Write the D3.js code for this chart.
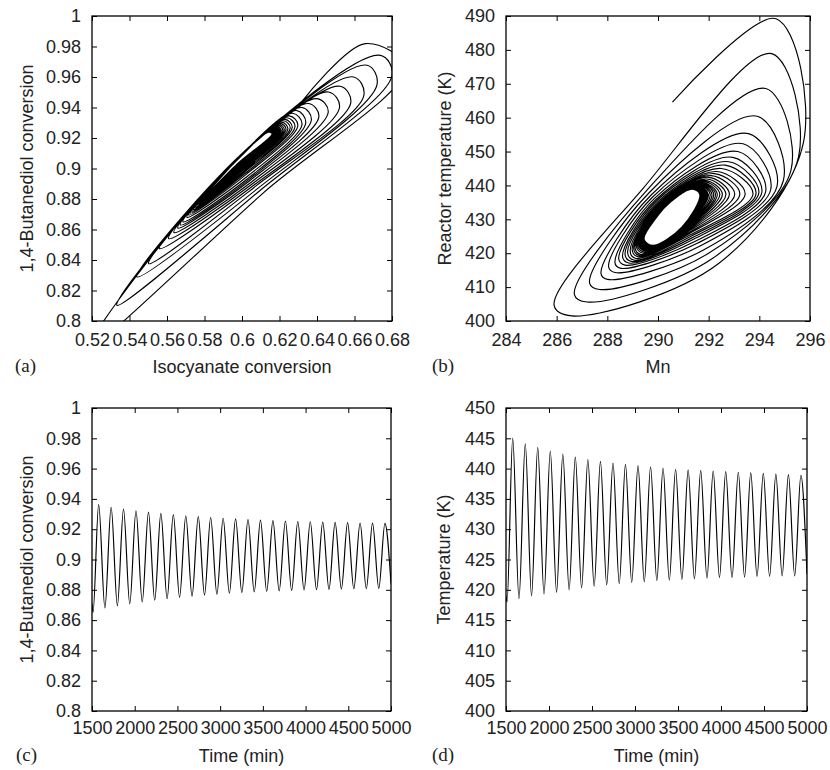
<!DOCTYPE html>
<html lang="en">
<head>
<meta charset="UTF-8">
<title>Limit cycle: phase portraits and time series</title>
<script src="https://d3js.org/d3.v7.min.js"></script>
<style>
  body { margin: 0; background: #fff; }
  .tick line { stroke: #000; stroke-width: 1px; }
  .tick text { font-family: "Liberation Sans", Arial, sans-serif; font-size: 18px; fill: #222; }
  .frame { fill: none; stroke: #000; stroke-width: 1.3px; }
  .orbit { fill: none; stroke: #000; stroke-width: 1.15px; stroke-linejoin: round; }
  .title { font-family: "Liberation Sans", Arial, sans-serif; font-size: 18px; fill: #222; }
  .tag { font-family: "Liberation Serif", "Times New Roman", serif; font-size: 19px; fill: #222; }
</style>
</head>
<body>
<svg id="fig" width="830" height="770"></svg>
<script>
// ---- tick values ----
const isoTicks = [0.52, 0.54, 0.56, 0.58, 0.6, 0.62, 0.64, 0.66, 0.68];
const bdTicks = [0.8, 0.82, 0.84, 0.86, 0.88, 0.9, 0.92, 0.94, 0.96, 0.98, 1];
const mnTicks = [284, 286, 288, 290, 292, 294, 296];
const reactorTTicks = [400, 410, 420, 430, 440, 450, 460, 470, 480, 490];
const timeTicks = [1500, 2000, 2500, 3000, 3500, 4000, 4500, 5000];
const tempTicks = [400, 405, 410, 415, 420, 425, 430, 435, 440, 445, 450];

// ---- (a) isocyanate vs butanediol conversion, one row per loop ----
// [top iso, bd, right end iso, bd, lower side iso, bd, tip iso, bd, upper side iso, bd]
const isoBdStart = [0.632, 0.9440];
const isoBdLoops = [
  [0.6658, 0.9819, 0.6870, 0.9660, 0.6111, 0.8837, 0.5180, 0.7820, 0.5960, 0.9051],
  [0.6738, 0.9742, 0.6800, 0.9610, 0.6096, 0.8856, 0.5333, 0.8103, 0.6000, 0.9096],
  [0.6667, 0.9677, 0.6720, 0.9550, 0.6086, 0.8871, 0.5440, 0.8289, 0.6018, 0.9116],
  [0.6595, 0.9600, 0.6650, 0.9480, 0.6075, 0.8886, 0.5502, 0.8376, 0.6013, 0.9111],
  [0.6524, 0.9539, 0.6580, 0.9430, 0.6068, 0.8895, 0.5560, 0.8475, 0.6011, 0.9109],
  [0.6462, 0.9502, 0.6520, 0.9400, 0.6061, 0.8905, 0.5609, 0.8540, 0.6005, 0.9102],
  [0.6400, 0.9458, 0.6460, 0.9370, 0.6054, 0.8915, 0.5637, 0.8580, 0.6003, 0.9099],
  [0.6355, 0.9426, 0.6410, 0.9340, 0.6046, 0.8925, 0.5657, 0.8610, 0.5995, 0.9089],
  [0.6320, 0.9400, 0.6370, 0.9320, 0.6041, 0.8932, 0.5671, 0.8630, 0.5990, 0.9083],
  [0.6290, 0.9380, 0.6340, 0.9300, 0.6036, 0.8939, 0.5685, 0.8650, 0.5985, 0.9077],
  [0.6270, 0.9362, 0.6320, 0.9290, 0.6029, 0.8949, 0.5706, 0.8680, 0.5990, 0.9075],
  [0.6252, 0.9345, 0.6298, 0.9282, 0.6021, 0.8960, 0.5716, 0.8695, 0.5986, 0.9070],
  [0.6240, 0.9333, 0.6283, 0.9275, 0.6016, 0.8967, 0.5725, 0.8708, 0.5983, 0.9067],
  [0.6228, 0.9322, 0.6268, 0.9270, 0.6011, 0.8974, 0.5733, 0.8720, 0.5981, 0.9064],
  [0.6219, 0.9313, 0.6257, 0.9266, 0.6007, 0.8980, 0.5741, 0.8731, 0.5979, 0.9062],
  [0.6209, 0.9304, 0.6245, 0.9261, 0.6002, 0.8986, 0.5748, 0.8741, 0.5976, 0.9060],
  [0.6201, 0.9296, 0.6235, 0.9257, 0.5999, 0.8991, 0.5754, 0.8750, 0.5975, 0.9057],
  [0.6193, 0.9289, 0.6226, 0.9253, 0.5995, 0.8995, 0.5759, 0.8758, 0.5973, 0.9056],
  [0.6187, 0.9283, 0.6218, 0.9250, 0.5993, 0.8999, 0.5764, 0.8765, 0.5972, 0.9054],
  [0.6181, 0.9277, 0.6210, 0.9248, 0.5990, 0.9002, 0.5768, 0.8771, 0.5970, 0.9052],
  [0.6176, 0.9272, 0.6204, 0.9245, 0.5988, 0.9006, 0.5772, 0.8777, 0.5969, 0.9051],
  [0.6171, 0.9268, 0.6199, 0.9243, 0.5986, 0.9008, 0.5776, 0.8782, 0.5968, 0.9050],
  [0.6167, 0.9264, 0.6194, 0.9241, 0.5984, 0.9011, 0.5779, 0.8786, 0.5967, 0.9049],
  [0.6163, 0.9260, 0.6188, 0.9239, 0.5982, 0.9013, 0.5782, 0.8790, 0.5966, 0.9048],
  [0.6160, 0.9257, 0.6184, 0.9237, 0.5981, 0.9015, 0.5784, 0.8793, 0.5965, 0.9047],
  [0.6157, 0.9254, 0.6181, 0.9236, 0.5979, 0.9017, 0.5786, 0.8796, 0.5965, 0.9046],
  [0.6154, 0.9251, 0.6177, 0.9235, 0.5978, 0.9019, 0.5788, 0.8799, 0.5964, 0.9045],
  [0.6152, 0.9249, 0.6174, 0.9234, 0.5977, 0.9020, 0.5789, 0.8801, 0.5964, 0.9045],
  [0.6149, 0.9247, 0.6172, 0.9233, 0.5976, 0.9021, 0.5790, 0.8803, 0.5963, 0.9044],
  [0.6147, 0.9245, 0.6169, 0.9231, 0.5975, 0.9023, 0.5792, 0.8805, 0.5963, 0.9044],
  [0.6145, 0.9243, 0.6166, 0.9230, 0.5974, 0.9024, 0.5793, 0.8807, 0.5962, 0.9043],
  [0.6143, 0.9241, 0.6164, 0.9229, 0.5973, 0.9025, 0.5794, 0.8808, 0.5962, 0.9043],
  [0.6142, 0.9240, 0.6163, 0.9229, 0.5973, 0.9026, 0.5794, 0.8809, 0.5961, 0.9043],
  [0.6140, 0.9238, 0.6160, 0.9228, 0.5972, 0.9027, 0.5795, 0.8810, 0.5961, 0.9042]
];

// ---- (b) Mn vs reactor temperature, one row per loop ----
// [top Mn, T, right side Mn, T, lower side Mn, T, bottom Mn, T, left Mn, T, upper side Mn, T]
const mnTStart = [290.57, 464.6];
const mnTLoops = [
  [294.66, 489.2, 295.75, 453.0, 292.38, 416.9, 286.60, 401.5, 285.90, 404.6, 289.43, 439.3],
  [294.49, 478.9, 295.55, 448.5, 292.16, 418.5, 287.20, 405.6, 286.70, 407.8, 289.54, 438.4],
  [294.26, 468.6, 295.25, 444.5, 291.98, 419.9, 287.70, 409.3, 287.30, 411.2, 289.63, 437.7],
  [293.92, 460.4, 294.95, 441.5, 291.83, 421.1, 288.00, 412.3, 287.75, 414.0, 289.72, 437.1],
  [293.57, 455.3, 294.70, 439.8, 291.68, 422.2, 288.30, 414.3, 288.05, 416.0, 289.79, 436.6],
  [293.36, 452.3, 294.45, 438.8, 291.57, 423.0, 288.50, 415.6, 288.30, 417.3, 289.85, 436.1],
  [293.15, 450.0, 294.25, 438.2, 291.49, 423.6, 288.70, 416.5, 288.45, 418.3, 289.90, 435.7],
  [292.95, 448.3, 294.10, 438.0, 291.42, 424.2, 288.85, 417.1, 288.60, 419.0, 289.94, 435.4],
  [292.80, 447.0, 293.98, 437.8, 291.36, 424.6, 288.95, 417.6, 288.70, 419.6, 289.98, 435.1],
  [292.65, 446.0, 293.87, 437.6, 291.30, 425.0, 289.05, 418.0, 288.80, 420.2, 290.01, 434.8],
  [292.50, 445.0, 293.75, 437.5, 291.26, 425.4, 289.10, 418.5, 288.90, 420.8, 290.04, 434.6],
  [292.33, 444.1, 293.44, 437.5, 291.21, 425.7, 289.20, 419.0, 288.98, 421.2, 290.07, 434.4],
  [292.22, 443.5, 293.23, 437.5, 291.18, 425.9, 289.27, 419.3, 289.04, 421.5, 290.09, 434.3],
  [292.10, 442.9, 293.03, 437.4, 291.15, 426.2, 289.34, 419.6, 289.09, 421.8, 290.10, 434.1],
  [291.99, 442.4, 292.82, 437.4, 291.12, 426.4, 289.41, 420.0, 289.14, 422.2, 290.12, 434.0],
  [291.92, 441.9, 292.68, 437.4, 291.10, 426.6, 289.46, 420.3, 289.18, 422.5, 290.13, 433.9],
  [291.84, 441.5, 292.54, 437.4, 291.08, 426.7, 289.50, 420.6, 289.22, 422.8, 290.15, 433.8],
  [291.78, 441.2, 292.44, 437.4, 291.06, 426.9, 289.54, 420.8, 289.24, 423.0, 290.16, 433.7],
  [291.73, 440.9, 292.34, 437.4, 291.05, 427.0, 289.57, 421.0, 289.27, 423.2, 290.17, 433.7],
  [291.69, 440.7, 292.27, 437.4, 291.04, 427.1, 289.59, 421.2, 289.29, 423.4, 290.17, 433.6],
  [291.65, 440.5, 292.20, 437.4, 291.03, 427.1, 289.62, 421.3, 289.31, 423.5, 290.18, 433.6],
  [291.61, 440.3, 292.13, 437.3, 291.02, 427.2, 289.64, 421.5, 289.32, 423.7, 290.18, 433.5],
  [291.58, 440.1, 292.06, 437.3, 291.01, 427.3, 289.66, 421.6, 289.34, 423.8, 290.19, 433.5],
  [291.54, 439.9, 291.99, 437.3, 291.00, 427.4, 289.69, 421.7, 289.36, 423.9, 290.20, 433.4],
  [291.52, 439.8, 291.96, 437.3, 290.99, 427.4, 289.70, 421.8, 289.37, 424.0, 290.20, 433.4],
  [291.50, 439.7, 291.93, 437.3, 290.99, 427.4, 289.71, 421.9, 289.38, 424.0, 290.20, 433.4],
  [291.48, 439.6, 291.89, 437.3, 290.98, 427.5, 289.72, 422.0, 289.39, 424.1, 290.21, 433.4],
  [291.46, 439.5, 291.86, 437.3, 290.98, 427.5, 289.73, 422.0, 289.40, 424.1, 290.21, 433.4],
  [291.44, 439.4, 291.82, 437.3, 290.97, 427.6, 289.74, 422.1, 289.41, 424.1, 290.21, 433.3],
  [291.43, 439.3, 291.79, 437.3, 290.97, 427.6, 289.75, 422.2, 289.41, 424.2, 290.21, 433.3],
  [291.41, 439.2, 291.75, 437.3, 290.96, 427.6, 289.77, 422.2, 289.42, 424.2, 290.22, 433.3],
  [291.39, 439.1, 291.72, 437.3, 290.96, 427.7, 289.78, 422.3, 289.43, 424.2, 290.22, 433.3],
  [291.37, 439.0, 291.68, 437.3, 290.95, 427.7, 289.79, 422.3, 289.44, 424.2, 290.22, 433.2],
  [291.35, 438.9, 291.65, 437.3, 290.95, 427.8, 289.80, 422.3, 289.45, 424.2, 290.23, 433.2]
];

// ---- (c), (d) time series: turning points ----
const peakTimes = [1578, 1724, 1869, 2015, 2161, 2306, 2452, 2598, 2744, 2889, 3035, 3181,
                   3326, 3472, 3618, 3764, 3909, 4055, 4201, 4346, 4492, 4638, 4784, 4929];
const troughTimes = [1512, 1651, 1797, 1942, 2088, 2234, 2379, 2525, 2671, 2817, 2962, 3108,
                     3254, 3399, 3545, 3691, 3837, 3982, 4128, 4274, 4419, 4565, 4711, 4857];
const bdPeaks = [0.9362, 0.9345, 0.9333, 0.9322, 0.9313, 0.9304, 0.9296, 0.9289, 0.9283, 0.9277, 0.9272, 0.9268,
                 0.9264, 0.9260, 0.9257, 0.9254, 0.9251, 0.9249, 0.9247, 0.9245, 0.9243, 0.9241, 0.9240, 0.9238];
const bdTroughs = [0.8650, 0.8680, 0.8695, 0.8708, 0.8720, 0.8731, 0.8741, 0.8750, 0.8758, 0.8765, 0.8771, 0.8777,
                   0.8782, 0.8786, 0.8790, 0.8793, 0.8796, 0.8799, 0.8801, 0.8803, 0.8805, 0.8807, 0.8808, 0.8809];
const bdEnds = [0.871, 0.884];       // value at t = 1500 and t = 5000
const tempPeaks = [445.0, 444.1, 443.5, 442.9, 442.4, 441.9, 441.5, 441.2, 440.9, 440.7, 440.5, 440.3,
                   440.1, 439.9, 439.8, 439.7, 439.6, 439.5, 439.4, 439.3, 439.2, 439.1, 439.0, 438.9];
const tempTroughs = [418.0, 418.5, 419.0, 419.3, 419.6, 420.0, 420.3, 420.6, 420.8, 421.0, 421.2, 421.3,
                     421.5, 421.6, 421.7, 421.8, 421.9, 422.0, 422.0, 422.1, 422.2, 422.2, 422.3, 422.3];
const tempEnds = [419.0, 422.6];

const svg = d3.select("#fig");
const fmt = d => String(+d.toFixed(2));
let clipId = 0;

function makePanel(p) {
  const x = d3.scaleLinear().domain(p.xDomain).range([p.left, p.right]);
  const y = d3.scaleLinear().domain(p.yDomain).range([p.bottom, p.top]);
  const g = svg.append("g");
  const noDomain = sel => sel.select(".domain").remove();

  g.append("g").attr("transform", `translate(0,${p.bottom})`)
    .call(d3.axisBottom(x).tickValues(p.xTicks).tickSize(-5).tickPadding(p.xPad).tickFormat(fmt)).call(noDomain);
  g.append("g").attr("transform", `translate(0,${p.top})`)
    .call(d3.axisTop(x).tickValues(p.xTicks).tickSize(-5).tickFormat("")).call(noDomain);
  g.append("g").attr("transform", `translate(${p.left},0)`)
    .call(d3.axisLeft(y).tickValues(p.yTicks).tickSize(-5).tickPadding(p.yPad).tickFormat(fmt)).call(noDomain);
  g.append("g").attr("transform", `translate(${p.right},0)`)
    .call(d3.axisRight(y).tickValues(p.yTicks).tickSize(-5).tickFormat("")).call(noDomain);

  g.append("rect").attr("class", "frame")
    .attr("x", p.left).attr("y", p.top)
    .attr("width", p.right - p.left).attr("height", p.bottom - p.top);

  const id = "clip" + (clipId++);
  svg.append("clipPath").attr("id", id).append("rect")
    .attr("x", p.left).attr("y", p.top)
    .attr("width", p.right - p.left).attr("height", p.bottom - p.top);
  const plot = g.append("g").attr("clip-path", `url(#${id})`);

  g.append("text").attr("class", "title")
    .attr("x", (p.left + p.right) / 2).attr("y", p.xTitleY)
    .attr("text-anchor", "middle").text(p.xTitle);
  g.append("text").attr("class", "title")
    .attr("transform", `translate(${p.yTitleX},${(p.top + p.bottom) / 2}) rotate(-90)`)
    .attr("text-anchor", "middle").text(p.yTitle);
  g.append("text").attr("class", "tag")
    .attr("x", p.tagX).attr("y", p.xTitleY - 1).text(p.tag);

  return { x, y, plot };
}

// orbit points in drawing order: start, then each loop's anchor points
function orbitPoints(start, loops) {
  const pts = [start];
  loops.forEach(row => {
    for (let i = 0; i < row.length; i += 2) pts.push([row[i], row[i + 1]]);
  });
  return pts;
}

function series(peaks, troughs, ends) {
  const pts = [[1500, ends[0]]];
  peakTimes.forEach((t, i) => pts.push([t, peaks[i]]));
  troughTimes.forEach((t, i) => pts.push([t, troughs[i]]));
  pts.push([5000, ends[1]]);
  return pts.sort((a, b) => a[0] - b[0]);
}

function drawLine(panel, pts, curve) {
  const line = d3.line().x(d => panel.x(d[0])).y(d => panel.y(d[1])).curve(curve);
  panel.plot.append("path").attr("class", "orbit").attr("d", line(pts));
}

// (a)
const pa = makePanel({
  left: 92, right: 392, top: 16, bottom: 321,
  xDomain: [0.52, 0.68], yDomain: [0.8, 1], xTicks: isoTicks, yTicks: bdTicks,
  xPad: 12, yPad: 11, xTitle: "Isocyanate conversion", xTitleY: 373,
  yTitle: "1,4-Butanediol conversion", yTitleX: 33, tag: "(a)", tagX: 15
});
drawLine(pa, orbitPoints(isoBdStart, isoBdLoops), d3.curveCatmullRom.alpha(0.5));

// (b)
const pb = makePanel({
  left: 506, right: 810, top: 16, bottom: 321,
  xDomain: [284, 296], yDomain: [400, 490], xTicks: mnTicks, yTicks: reactorTTicks,
  xPad: 12, yPad: 11, xTitle: "Mn", xTitleY: 373,
  yTitle: "Reactor temperature (K)", yTitleX: 451, tag: "(b)", tagX: 432
});
drawLine(pb, orbitPoints(mnTStart, mnTLoops), d3.curveCatmullRom.alpha(0.5));

// (c)
const pc = makePanel({
  left: 92, right: 391, top: 408, bottom: 711,
  xDomain: [1500, 5000], yDomain: [0.8, 1], xTicks: timeTicks, yTicks: bdTicks,
  xPad: 10, yPad: 11, xTitle: "Time (min)", xTitleY: 762,
  yTitle: "1,4-Butanediol conversion", yTitleX: 33, tag: "(c)", tagX: 16
});
drawLine(pc, series(bdPeaks, bdTroughs, bdEnds), d3.curveMonotoneX);

// (d)
const pd = makePanel({
  left: 506, right: 807, top: 408, bottom: 711,
  xDomain: [1500, 5000], yDomain: [400, 450], xTicks: timeTicks, yTicks: tempTicks,
  xPad: 10, yPad: 11, xTitle: "Time (min)", xTitleY: 762,
  yTitle: "Temperature (K)", yTitleX: 450, tag: "(d)", tagX: 432
});
drawLine(pd, series(tempPeaks, tempTroughs, tempEnds), d3.curveMonotoneX);
</script>
</body>
</html>
